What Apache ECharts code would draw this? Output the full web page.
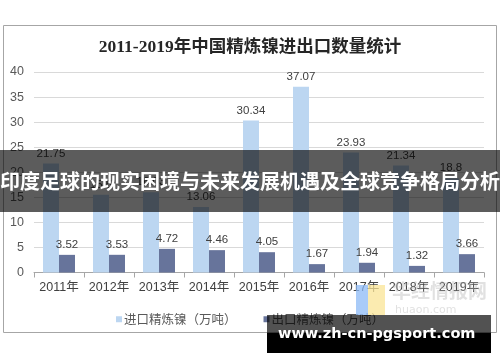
<!DOCTYPE html>
<html>
<head>
<meta charset="utf-8">
<script src="https://cdn.jsdelivr.net/npm/echarts@6/dist/echarts.min.js"></script>
<style>html,body{margin:0;padding:0;background:#fff;}#c{width:500px;height:362px;}</style>
</head>
<body>
<div id="c"></div>
<script>
var titleText = '2011-2019年中国精炼镍进出口数量统计';
var categories = ['2011年','2012年','2013年','2014年','2015年','2016年','2017年','2018年','2019年'];
var importName = '进口精炼镍（万吨）';
var exportName = '出口精炼镍（万吨）';
var importValues = [21.75, 15.5, 16.03, 13.06, 30.34, 37.07, 23.93, 21.34, 18.8];
var exportValues = [3.52, 3.53, 4.72, 4.46, 4.05, 1.67, 1.94, 1.32, 3.66];
var bannerText = '印度足球的现实困境与未来发展机遇及全球竞争格局分析';
var siteText = 'www.zh-cn-pgsport.com';
var logoText = '华经情报网';
var logoSub = 'huaon.com';

var chart = echarts.init(document.getElementById('c'), null, {renderer: 'canvas'});
var cjk = "'Noto Sans CJK SC', 'DejaVu Sans', sans-serif";
var option = {
  animation: false,
  backgroundColor: '#ffffff',
  title: {
    text: titleText,
    left: 'center',
    top: 34,
    textStyle: {fontFamily: "'Liberation Serif', 'Noto Sans CJK SC', serif", fontWeight: 'bold', fontSize: 17.5, color: '#262626'}
  },
  grid: {left: 34, right: 16, top: 72, bottom: 89.5, containLabel: false},
  legend: {
    data: [importName, exportName],
    left: 'center',
    top: 308,
    icon: 'rect',
    itemWidth: 6,
    itemHeight: 6,
    itemGap: 27,
    textStyle: {fontFamily: cjk, fontSize: 12.5, color: '#595959', padding: [0,0,0,-3]}
  },
  xAxis: {
    type: 'category',
    data: categories,
    axisLine: {lineStyle: {color: '#a6a6a6'}},
    axisTick: {show: true, length: 5, interval: 0, lineStyle: {color: '#a6a6a6'}},
    axisLabel: {interval: 0, fontFamily: "'Liberation Sans', 'Noto Sans CJK SC', sans-serif", fontSize: 12.5, color: '#404040', margin: 9}
  },
  yAxis: {
    type: 'value',
    min: 0, max: 40, interval: 5,
    axisLine: {show: false},
    axisTick: {show: false},
    splitLine: {lineStyle: {color: '#d9d9d9'}},
    axisLabel: {fontFamily: "'Liberation Sans', sans-serif", fontSize: 12.5, color: '#595959', margin: 10}
  },
  series: [
    {
      name: importName, type: 'bar', data: importValues,
      barWidth: 16, barGap: '0%',
      itemStyle: {color: '#bcd6f1'},
      label: {show: true, position: 'top', distance: 4, fontFamily: "'Liberation Sans', sans-serif", fontSize: 11.5, color: '#404040'}
    },
    {
      name: exportName, type: 'bar', data: exportValues,
      barWidth: 16, barGap: '0%',
      itemStyle: {color: '#67749b'},
      label: {show: true, position: 'top', distance: 4, fontFamily: "'Liberation Sans', sans-serif", fontSize: 11.5, color: '#404040'}
    }
  ],
  graphic: [
    {type: 'rect', z: -1, shape: {x: 3.5, y: 25.5, width: 493, height: 307}, style: {fill: 'none', stroke: '#a6a6a6', lineWidth: 1}},
    {type: 'rect', z: 50, shape: {x: 356, y: 285, width: 12, height: 30}, style: {fill: 'rgba(140,185,245,0.75)'}},
    {type: 'rect', z: 50, shape: {x: 368, y: 285, width: 17, height: 30}, style: {fill: 'rgba(250,228,150,0.75)'}},
    {type: 'text', z: 50, left: 392, top: 281, style: {text: logoText, fontFamily: cjk, fontSize: 19, fontWeight: 'bold', fill: 'rgba(180,180,180,0.4)'}},
    {type: 'text', z: 50, left: 395, top: 305, style: {text: logoSub, fontFamily: "'DejaVu Sans', sans-serif", fontSize: 11, fill: 'rgba(180,180,180,0.4)', letterSpacing: 4}},
    {type: 'rect', z: 100, shape: {x: 0, y: 150, width: 500, height: 62}, style: {fill: 'rgba(0,0,0,0.64)'}},
    {type: 'text', z: 101, left: 'center', top: 171, style: {text: bannerText, fontFamily: cjk, fontSize: 20, fontWeight: 'bold', fill: '#ffffff'}},
    {type: 'rect', z: 100, shape: {x: 267, y: 315, width: 224, height: 18}, style: {fill: 'rgba(0,0,0,0.68)'}},
    {type: 'rect', z: 100, shape: {x: 267, y: 333, width: 224, height: 20}, style: {fill: '#000000'}},
    {type: 'text', z: 101, left: 278, top: 327, style: {text: siteText, fontFamily: "'DejaVu Sans', sans-serif", fontSize: 14.5, fontWeight: 'bold', fill: '#ffffff'}}
  ]
};
chart.setOption(option);
</script>
</body>
</html>
